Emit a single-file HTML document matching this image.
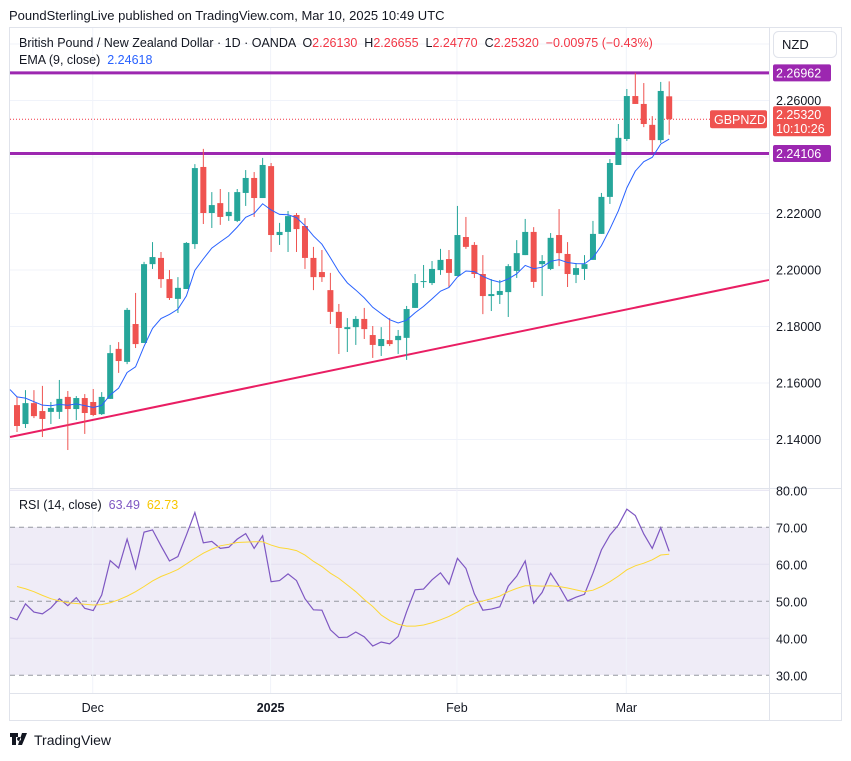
<!DOCTYPE html>
<html><head><meta charset="utf-8">
<style>
body{margin:0;background:#fff;width:851px;height:756px;overflow:hidden;font-family:"Liberation Sans",sans-serif}
svg text{font-family:"Liberation Sans",sans-serif;white-space:pre}
</style></head>
<body>
<svg id="c" width="851" height="756" xmlns="http://www.w3.org/2000/svg" xml:space="preserve">
<text x="9" y="20" font-size="13" fill="#131722">PoundSterlingLive published on TradingView.com, Mar 10, 2025 10:49 UTC</text>
<rect x="9.5" y="27.5" width="832" height="693" fill="#fff" stroke="#e0e3eb"/>
<rect x="10" y="527" width="759" height="148" fill="#efecf7"/>
<g id="grid"></g>
<g id="lines"></g>
<g id="marks"></g>
<line x1="769.5" y1="28" x2="769.5" y2="720" stroke="#e0e3eb"/>
<line x1="10" y1="488.5" x2="841" y2="488.5" stroke="#e0e3eb"/>
<line x1="10" y1="693.5" x2="841" y2="693.5" stroke="#e0e3eb"/>
<g id="axis"></g>
<text x="19" y="47" font-size="12.5" fill="#131722">British Pound / New Zealand Dollar · 1D · OANDA  O<tspan fill="#f23645">2.26130</tspan>  H<tspan fill="#f23645">2.26655</tspan>  L<tspan fill="#f23645">2.24770</tspan>  C<tspan fill="#f23645">2.25320  −0.00975 (−0.43%)</tspan></text>
<text x="19" y="64" font-size="12.5" fill="#131722">EMA (9, close)  <tspan fill="#2962ff">2.24618</tspan></text>
<text x="19" y="509" font-size="12.5" fill="#131722">RSI (14, close)  <tspan fill="#7e57c2">63.49</tspan>  <tspan fill="#f7c600">62.73</tspan></text>
<rect x="773.5" y="31.5" width="63" height="26" rx="5" fill="#fff" stroke="#e0e3eb"/>
<text x="782" y="49" font-size="13" fill="#131722">NZD</text>
<g>
<path d="M10 733h8v4h-2v8h-4v-8h-2z M19 737a2 2 0 1 0 0.1 0z M22 733h5l-5 12h-4z" fill="#131722"/>
<text x="34" y="745" font-size="14" fill="#131722">TradingView</text>
</g>
</svg>
<script>
const opens=[2.1520,2.1453,2.1527,2.1499,2.1496,2.1496,2.1549,2.1506,2.1545,2.1531,2.1488,2.1542,2.1719,2.1673,2.1807,2.1740,2.2019,2.2041,2.1966,2.1896,2.1931,2.2090,2.2363,2.2200,2.2235,2.2189,2.2172,2.2271,2.2324,2.2253,2.2366,2.2122,2.2133,2.2193,2.2154,2.2041,2.1991,2.1927,2.1850,2.1789,2.1796,2.1825,2.1768,2.1729,2.1750,2.1750,2.1758,2.1864,2.1956,2.1952,2.1998,2.2037,2.1977,2.2115,2.2087,2.1984,2.1906,2.1910,2.1920,2.1995,2.2051,2.2133,2.2019,2.2002,2.2122,2.2055,2.1981,2.2002,2.2034,2.2126,2.2257,2.2370,2.2462,2.2614,2.2586,2.2512,2.2458,2.2613];
const highs=[2.1549,2.1573,2.1573,2.1588,2.1531,2.1609,2.1570,2.1552,2.1559,2.1577,2.1566,2.1733,2.1743,2.1864,2.1917,2.2027,2.2097,2.2062,2.1998,2.1973,2.2097,2.2373,2.2427,2.2274,2.2285,2.2274,2.2285,2.2352,2.2345,2.2395,2.2377,2.2165,2.2207,2.2200,2.2182,2.2080,2.2069,2.1988,2.1878,2.1828,2.1835,2.1864,2.1800,2.1796,2.1828,2.1786,2.1871,2.1984,2.2016,2.2030,2.2073,2.2069,2.2225,2.2186,2.2097,2.2051,2.1966,2.1963,2.2019,2.2104,2.2179,2.2150,2.2051,2.2129,2.2214,2.2097,2.2023,2.2051,2.2172,2.2271,2.2391,2.2515,2.2639,2.2696,2.2660,2.2543,2.2664,2.2666];
const lows=[2.1425,2.1439,2.1474,2.1407,2.1453,2.1471,2.1361,2.1467,2.1418,2.1481,2.1485,2.1542,2.1634,2.1665,2.1722,2.1740,2.2002,2.1935,2.1892,2.1846,2.1931,2.2073,2.2161,2.2147,2.2158,2.2172,2.2168,2.2225,2.2186,2.2253,2.2062,2.2087,2.2062,2.2062,2.2002,2.1927,2.1956,2.1807,2.1701,2.1708,2.1733,2.1754,2.1687,2.1694,2.1729,2.1701,2.1680,2.1864,2.1935,2.1945,2.1981,2.1938,2.1977,2.2073,2.1970,2.1842,2.1853,2.1878,2.1832,2.1970,2.2051,2.1935,2.1906,2.1998,2.2012,2.1938,2.1952,2.1963,2.2034,2.2126,2.2232,2.2370,2.2455,2.2586,2.2504,2.2416,2.2448,2.2477];
const closes=[2.1446,2.1527,2.1481,2.1471,2.1510,2.1542,2.1506,2.1545,2.1492,2.1485,2.1549,2.1704,2.1676,2.1857,2.1736,2.2019,2.2044,2.1966,2.1899,2.1935,2.2094,2.2359,2.2200,2.2228,2.2186,2.2204,2.2274,2.2324,2.2253,2.2370,2.2122,2.2133,2.2189,2.2143,2.2041,2.1973,2.1973,2.1850,2.1793,2.1796,2.1825,2.1789,2.1733,2.1754,2.1736,2.1765,2.1860,2.1952,2.1959,2.2002,2.2034,2.1988,2.2122,2.2080,2.1984,2.1906,2.1913,2.1924,2.2012,2.2058,2.2133,2.1956,2.2030,2.2112,2.2058,2.1984,2.2005,2.2019,2.2126,2.2257,2.2377,2.2466,2.2614,2.2586,2.2515,2.2458,2.2632,2.2532];
const emaSeed=2.1575;
const rsiSeed=45.7;
const rsiValues=[45.0,49.3,47.1,46.6,48.2,50.7,48.8,51.0,48.1,47.5,51.7,61.0,59.0,66.8,58.9,68.7,69.3,65.0,60.9,62.1,67.9,74.0,65.8,66.2,64.3,64.6,66.8,68.3,64.3,67.7,55.3,55.6,57.4,55.6,50.7,47.7,47.6,42.3,40.2,40.3,41.7,40.4,37.9,39.0,38.5,40.5,47.2,53.1,53.3,55.8,57.7,54.6,61.6,58.9,52.0,47.6,47.9,48.5,54.1,56.8,60.9,49.5,52.4,57.6,54.1,50.1,51.1,51.9,57.6,63.9,67.9,70.6,74.9,73.2,68.2,64.3,69.9,63.5];
const rsiMaValues=[54.0,53.4,52.6,51.6,50.7,50.1,49.6,49.4,49.2,49.0,49.1,49.6,50.4,51.4,52.6,54.0,55.5,56.7,57.6,58.6,60.1,61.6,63.0,64.1,65.0,65.4,65.9,66.0,66.1,66.1,65.2,64.5,64.2,63.7,62.5,60.8,59.4,57.6,56.2,54.4,52.6,50.5,48.6,46.3,44.8,43.8,43.3,43.3,43.6,44.2,45.0,45.9,47.1,48.6,49.5,50.1,50.7,51.4,52.6,53.5,54.2,54.2,54.1,54.2,54.0,53.6,53.1,52.6,53.0,54.0,55.3,56.8,58.5,59.6,60.3,61.2,62.5,62.7];
const priceTicks=[2.28,2.26,2.24,2.22,2.20,2.18,2.16,2.14];
const rsiTicks=[80,70,60,50,40,30];
const resistance=2.26962, support=2.24106;
const trendStart=2.1407, trendEnd=2.1963;
const lastClose=2.25320;
const timeLabels=[["Dec",9],["2025",30],["Feb",52],["Mar",72]];

const NS="http://www.w3.org/2000/svg";
const X0=10,X1=769;
const xOf=i=>17+i*8.47;
const yP=p=>100+(2.26-p)*2825;
const yR=v=>527.3-(v-70)*3.7;
function mk(tag,attrs,parent,text){const e=document.createElementNS(NS,tag);for(const k in attrs)e.setAttribute(k,attrs[k]);if(text!==undefined)e.textContent=text;document.getElementById(parent).appendChild(e);return e;}

priceTicks.forEach(p=>{
  const l=mk('line',{x1:X0,x2:X1,y1:yP(p)+.5,y2:yP(p)+.5,stroke:'#f0f3fa'},'grid');
  
  
  if(yP(p)>40){const t=mk('text',{x:776,y:yP(p)+5,'font-size':12.5,fill:'#131722'},'axis',p.toFixed(5));
  
  }
});
rsiTicks.forEach(v=>{
  const dashed=(v===70||v===50||v===30);
  const l=mk('line',{x1:X0,x2:X1,y1:yR(v),y2:yR(v),stroke:dashed?'#9598a1':'#e4e0f0','stroke-dasharray':dashed?'5,4':'none'},'grid');
  
  
  const t=mk('text',{x:776,y:yR(v)+5,'font-size':12.5,fill:'#131722'},'axis',v.toFixed(2));
  
  
});
timeLabels.forEach(([s,i])=>{
  const x=xOf(i)-0.5;
  const l=mk('line',{x1:x,x2:x,y1:28,y2:693,stroke:'#f0f3fa'},'grid');
  
  
  const t=mk('text',{x:x,y:712,'font-size':12.5,fill:'#131722','text-anchor':'middle','font-weight':s==='2025'?'bold':'normal'},'axis',s);
  
  
});

[resistance,support].forEach((p,k)=>{
  const l=mk('line',{x1:X0,x2:X1,y1:yP(p),y2:yP(p),stroke:'#9c27b0','stroke-width':3},'lines');
  
  
});
const tr=mk('line',{x1:X0,x2:X1,y1:yP(trendStart),y2:yP(trendEnd),stroke:'#e91e63','stroke-width':2},'lines');


const cl=mk('line',{x1:X0,x2:710,y1:yP(lastClose),y2:yP(lastClose),stroke:'#f23645','stroke-dasharray':'1,2'},'lines');



opens.forEach((o,i)=>{
  const c=closes[i],up=c>=o,col=up?'#26a69a':'#ef5350',x=xOf(i);
  const w=mk('line',{x1:x,x2:x,y1:yP(highs[i]),y2:yP(lows[i]),stroke:col,'stroke-width':1},'marks');
  
  
  const t=Math.min(yP(o),yP(c)),h=Math.max(1,Math.abs(yP(o)-yP(c)));
  const b=mk('rect',{x:x-3,y:t,width:6,height:h,fill:col},'marks');
  
  
});
let e=emaSeed;const k=2/10;const pts=[];
closes.forEach((c,i)=>{e=c*k+e*(1-k);pts.push(xOf(i)+','+yP(e));});
const ema=mk('polyline',{points:'10,'+yP(emaSeed)+' '+pts.join(' '),fill:'none',stroke:'#2962ff','stroke-width':1},'marks');


const rp=mk('polyline',{points:'10,'+yR(rsiSeed)+' '+rsiValues.map((v,i)=>xOf(i)+','+yR(v)).join(' '),fill:'none',stroke:'#7e57c2','stroke-width':1.2},'marks');


const rm=mk('polyline',{points:rsiMaValues.map((v,i)=>xOf(i)+','+yR(v)).join(' '),fill:'none',stroke:'#fdd835','stroke-width':1},'marks');



function tag(y,h,fill,lines,name){
  const r=mk('rect',{x:773,y:y-h/2,width:58,height:h,rx:2,fill:fill},'axis');
  
  
  lines.forEach((s,j)=>{const t=mk('text',{x:776,y:y-h/2+13+j*14,'font-size':12.5,fill:'#fff'},'axis',s);
  
  });
}
tag(yP(resistance),17,'#9c27b0',[resistance.toFixed(5)],'resistance-tag');
tag(yP(support),17,'#9c27b0',[support.toFixed(5)],'support-tag');
tag(yP(lastClose)+2,30,'#ef5350',[lastClose.toFixed(5),'10:10:26'],'last-price-tag');
const sr=mk('rect',{x:710,y:yP(lastClose)-9,width:57,height:18,rx:2,fill:'#ef5350'},'axis');


const st=mk('text',{x:714,y:yP(lastClose)+5,'font-size':12.5,fill:'#fff'},'axis','GBPNZD');


</script>
</body></html>
